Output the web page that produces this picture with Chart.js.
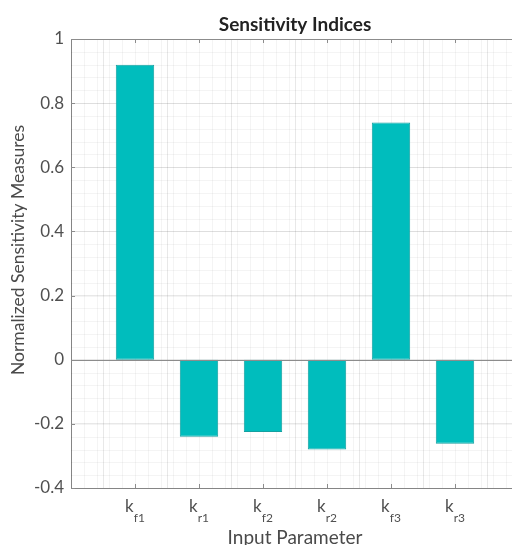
<!DOCTYPE html>
<html>
<head>
<meta charset="utf-8">
<script src="https://cdn.jsdelivr.net/npm/chart.js@4.4.1/dist/chart.umd.min.js"></script>
<style>
    html, body { margin: 0; padding: 0; background: #fff; overflow: hidden; }
    #contenedor { width: 522px; height: 545px; }
</style>
</head>
<body>
<div id="contenedor"><canvas id="graficaSensibilidad"></canvas></div>
<script>
// ===============================
// DATOS
// ===============================
const subindices   = ["f1", "r1", "f2", "r2", "f3", "r3"];   // k_{...}
const posiciones   = [1, 2, 3, 4, 5, 6];
const sensibilidad = [0.92, -0.24, -0.225, -0.28, 0.74, -0.262];
const rangoY       = [-0.4, 1];
const pasoY        = 0.2;

const FUENTE = "Lato, 'Open Sans', sans-serif";
const GRIS_TEXTO = "#505050";

// ===============================
// PLUGIN: rejilla menor, línea base, caja y textos
// ===============================
const dibujoExtra = {
    id: "dibujoExtra",
    beforeDatasetsDraw(chart) {
        const { ctx, chartArea: a, scales: { x, y } } = chart;
        ctx.save();
        ctx.strokeStyle = "rgba(0,0,0,0.045)";
        ctx.lineWidth = 1;
        for (let v = rangoY[0]; v <= rangoY[1] + 1e-9; v += 0.04) {
            const py = Math.round(y.getPixelForValue(v)) + 0.5;
            ctx.beginPath(); ctx.moveTo(a.left, py); ctx.lineTo(a.right, py); ctx.stroke();
        }
        for (let v = 0; v <= 7 + 1e-9; v += 0.2) {
            const px = Math.round(x.getPixelForValue(v)) + 0.5;
            ctx.beginPath(); ctx.moveTo(px, a.top); ctx.lineTo(px, a.bottom); ctx.stroke();
        }
        ctx.restore();
    },
    afterDatasetsDraw(chart) {
        const { ctx, chartArea: a, scales: { x, y } } = chart;
        ctx.save();
        ctx.strokeStyle = "#8c8c8c";
        ctx.lineWidth = 1;
        // línea base en cero
        const y0 = Math.round(y.getPixelForValue(0)) + 0.5;
        ctx.beginPath(); ctx.moveTo(a.left, y0); ctx.lineTo(a.right, y0); ctx.stroke();
        // borde superior
        ctx.beginPath(); ctx.moveTo(a.left, a.top + 0.5); ctx.lineTo(a.right, a.top + 0.5); ctx.stroke();
        // marcas hacia dentro
        posiciones.forEach(p => {
            const px = Math.round(x.getPixelForValue(p)) + 0.5;
            ctx.beginPath(); ctx.moveTo(px, a.bottom); ctx.lineTo(px, a.bottom - 4); ctx.stroke();
            ctx.beginPath(); ctx.moveTo(px, a.top); ctx.lineTo(px, a.top + 4); ctx.stroke();
        });
        for (let v = rangoY[0]; v <= rangoY[1] + 1e-9; v += pasoY) {
            const py = Math.round(y.getPixelForValue(v)) + 0.5;
            ctx.beginPath(); ctx.moveTo(a.left, py); ctx.lineTo(a.left + 4, py); ctx.stroke();
        }
        ctx.restore();
    },
    afterDraw(chart) {
        const { ctx, chartArea: a, scales: { x } } = chart;
        ctx.save();
        ctx.fillStyle = GRIS_TEXTO;
        ctx.textBaseline = "alphabetic";

        // etiquetas k con subíndice
        posiciones.forEach((p, i) => {
            const px = x.getPixelForValue(p);
            ctx.font = "17px " + FUENTE;
            const wk = ctx.measureText("k").width;
            ctx.font = "12px " + FUENTE;
            const ws = ctx.measureText(subindices[i]).width;
            const inicio = px - (wk + ws) / 2;
            ctx.textAlign = "left";
            ctx.font = "17px " + FUENTE;
            ctx.fillText("k", inicio, 512);
            ctx.font = "12px " + FUENTE;
            ctx.fillText(subindices[i], inicio + wk, 522);
        });

        // título del eje x
        ctx.textAlign = "center";
        ctx.font = "19px " + FUENTE;
        ctx.fillStyle = "#4a4a4a";
        ctx.fillText("Input Parameter", (a.left + a.right) / 2, 544);

        // título del eje y
        ctx.save();
        ctx.translate(24, 250);
        ctx.rotate(-Math.PI / 2);
        ctx.font = "17.5px " + FUENTE;
        ctx.fillText("Normalized Sensitivity Measures", 0, 0);
        ctx.restore();

        // título principal
        ctx.fillStyle = "#222";
        ctx.font = "bold 19px " + FUENTE;
        ctx.fillText("Sensitivity Indices", (a.left + a.right) / 2, 31);
        ctx.restore();
    }
};

// ===============================
// GRÁFICA DE BARRAS
// ===============================
new Chart(document.getElementById("graficaSensibilidad"), {
    type: "bar",
    data: {
        datasets: [{
            data: posiciones.map((p, i) => ({ x: p, y: sensibilidad[i] })),
            backgroundColor: "#00bdbd",
            borderColor: "#14a0a0",
            borderWidth: 1,
            borderSkipped: false,
            barPercentage: 0.6,
            categoryPercentage: 1
        }]
    },
    options: {
        responsive: true,
        maintainAspectRatio: false,
        animation: false,
        layout: { padding: { top: 39, right: 3, left: 0, bottom: 0 } },
        plugins: { legend: { display: false }, tooltip: { enabled: false } },
        scales: {
            x: {
                type: "linear",
                min: 0,
                max: 7,
                offset: false,
                ticks: { stepSize: 1, callback: () => "" },
                grid: { color: "rgba(0,0,0,0.09)", drawTicks: false },
                border: { color: "#8c8c8c" },
                afterFit: s => { s.height = 57; }
            },
            y: {
                min: rangoY[0],
                max: rangoY[1],
                ticks: {
                    stepSize: pasoY,
                    padding: 7,
                    color: GRIS_TEXTO,
                    font: { family: FUENTE, size: 17 },
                    callback: v => String(Number(v.toFixed(1)))
                },
                grid: { color: "rgba(0,0,0,0.09)", drawTicks: false },
                border: { color: "#8c8c8c" },
                afterFit: s => { s.width = 71; }
            }
        }
    },
    plugins: [dibujoExtra]
});
</script>
</body>
</html>
